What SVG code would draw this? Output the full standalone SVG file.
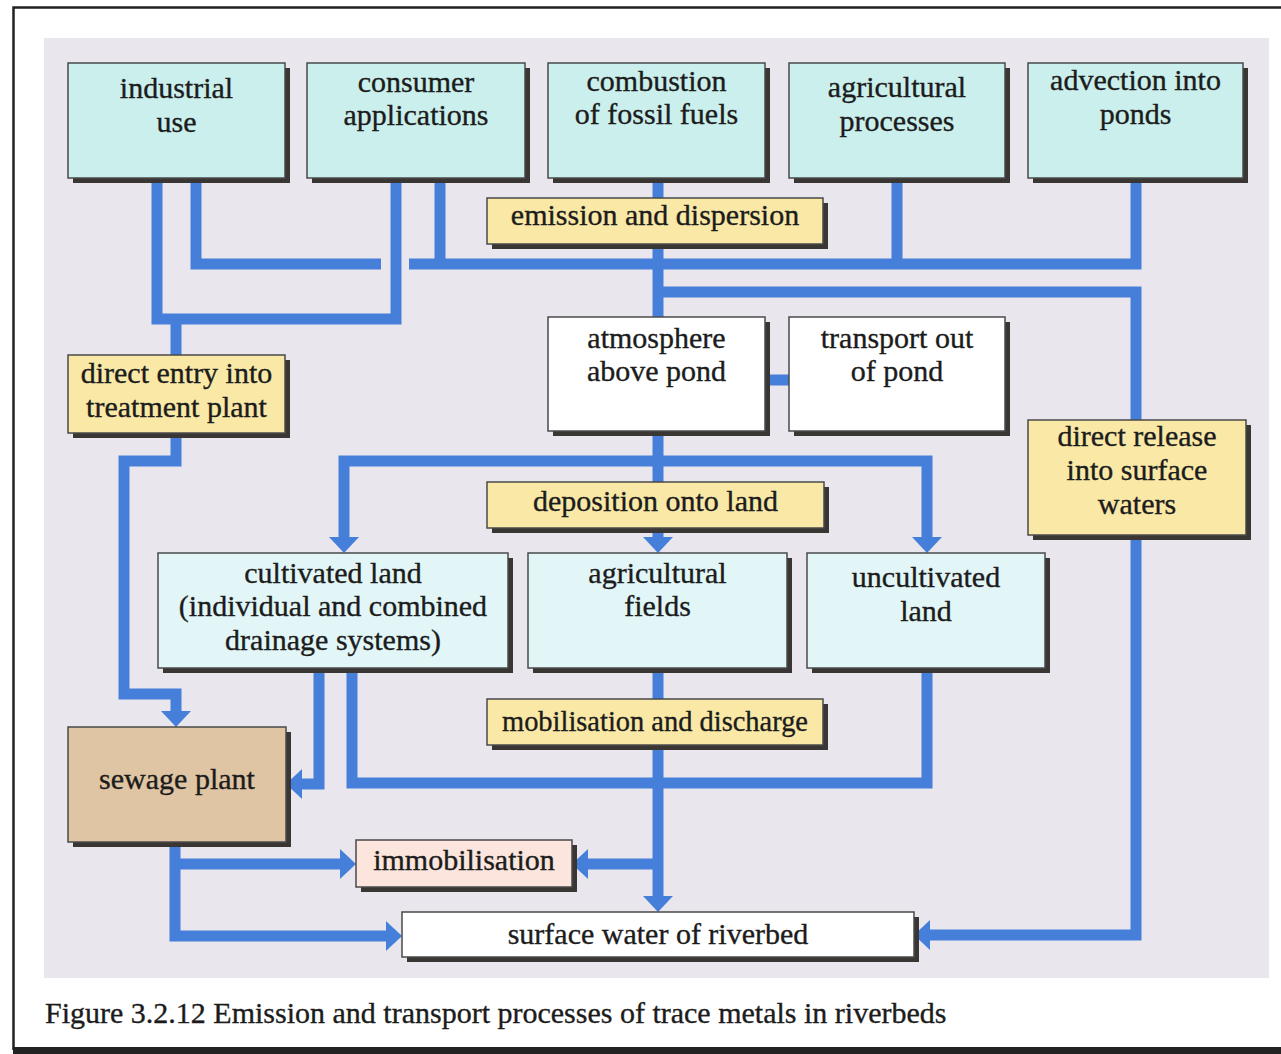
<svg xmlns="http://www.w3.org/2000/svg" width="1281" height="1054" viewBox="0 0 1281 1054">
<defs>
<style>
.frame{fill:none;stroke:#222;stroke-width:2.5}
.panel{fill:#e9e7ed}
.shadow{fill:#3a3634}
.bx{stroke:#4a4a4a;stroke-width:1.5}
.src{fill:#caefec}
.land{fill:#e2f6f8}
.lbl{fill:#f9e8a6}
.wht{fill:#ffffff}
.sew{fill:#dfc5a3}
.imm{fill:#fbe5dd}
text{font-family:"Liberation Serif","Times New Roman",serif;font-size:30px;fill:#1c1c1c;stroke:#1c1c1c;stroke-width:0.35;text-anchor:middle}
.cap{text-anchor:start}
.conn{fill:none;stroke:#467fd9;stroke-width:11;stroke-linejoin:miter;stroke-linecap:butt}
</style>
<marker id="arr" markerUnits="userSpaceOnUse" viewBox="0 0 16 30" markerWidth="16" markerHeight="30" refX="0" refY="15" orient="auto">
<path d="M0,0 L16,15 L0,30 z" fill="#467fd9"/>
</marker>
</defs>
<rect x="0" y="0" width="1281" height="1054" fill="#ffffff"/>
<path class="frame" d="M13.5,1050 V7.5 H1281"/>
<rect x="13" y="1047" width="1268" height="7" fill="#222"/>
<rect class="panel" x="44" y="38" width="1225" height="940"/>

<g id="connectors">
<path class="conn" d="M157,175 V319 H396 V175"/>
<path class="conn" d="M176,319 V358"/>
<path class="conn" d="M196,175 V264 H381"/>
<path class="conn" d="M409,264 H1136 V175"/>
<path class="conn" d="M440,175 V264"/>
<path class="conn" d="M897,175 V264"/>
<path class="conn" d="M658,175 V320"/>
<path class="conn" d="M658,292 H1136 V424"/>
<path class="conn" d="M760,380 H795"/>
<path class="conn" d="M658,428 V537" marker-end="url(#arr)"/>
<path class="conn" d="M658,461 H344 V537" marker-end="url(#arr)"/>
<path class="conn" d="M658,461 H927 V537" marker-end="url(#arr)"/>
<path class="conn" d="M176,430 V461 H124 V694 H176 V711" marker-end="url(#arr)"/>
<path class="conn" d="M319,665 V784 H302" marker-end="url(#arr)"/>
<path class="conn" d="M352,665 V783 H927 V665"/>
<path class="conn" d="M658,665 V896" marker-end="url(#arr)"/>
<path class="conn" d="M658,864 H588" marker-end="url(#arr)"/>
<path class="conn" d="M175,838 V936 H386" marker-end="url(#arr)"/>
<path class="conn" d="M175,864 H340" marker-end="url(#arr)"/>
<path class="conn" d="M1136,530 V935 H930" marker-end="url(#arr)"/>
</g>

<g id="industrial-use">
<rect class="shadow" x="73" y="68" width="217" height="115"/>
<rect class="bx src" x="68" y="63" width="217" height="115"/>
<text x="176.5" y="98">industrial</text>
<text x="176.5" y="132">use</text>
</g>
<g id="consumer-applications">
<rect class="shadow" x="312" y="68" width="218" height="115"/>
<rect class="bx src" x="307" y="63" width="218" height="115"/>
<text x="416" y="92">consumer</text>
<text x="416" y="125">applications</text>
</g>
<g id="combustion">
<rect class="shadow" x="553" y="68" width="217" height="115"/>
<rect class="bx src" x="548" y="63" width="217" height="115"/>
<text x="656.5" y="91">combustion</text>
<text x="656.5" y="124">of fossil fuels</text>
</g>
<g id="agricultural-processes">
<rect class="shadow" x="794" y="68" width="216" height="115"/>
<rect class="bx src" x="789" y="63" width="216" height="115"/>
<text x="897" y="97">agricultural</text>
<text x="897" y="131">processes</text>
</g>
<g id="advection">
<rect class="shadow" x="1033" y="68" width="215" height="115"/>
<rect class="bx src" x="1028" y="63" width="215" height="115"/>
<text x="1135.5" y="90">advection into</text>
<text x="1135.5" y="124">ponds</text>
</g>

<g id="emission-dispersion">
<rect class="shadow" x="492" y="203" width="336" height="46"/>
<rect class="bx lbl" x="487" y="198" width="336" height="46"/>
<text x="655" y="225">emission and dispersion</text>
</g>
<g id="direct-entry">
<rect class="shadow" x="73" y="360" width="217" height="78"/>
<rect class="bx lbl" x="68" y="355" width="217" height="78"/>
<text x="176.5" y="383">direct entry into</text>
<text x="176.5" y="417">treatment plant</text>
</g>
<g id="atmosphere">
<rect class="shadow" x="553" y="322" width="217" height="114"/>
<rect class="bx wht" x="548" y="317" width="217" height="114"/>
<text x="656.5" y="348">atmosphere</text>
<text x="656.5" y="381">above pond</text>
</g>
<g id="transport-out">
<rect class="shadow" x="794" y="322" width="216" height="114"/>
<rect class="bx wht" x="789" y="317" width="216" height="114"/>
<text x="897" y="348">transport out</text>
<text x="897" y="381">of pond</text>
</g>
<g id="direct-release">
<rect class="shadow" x="1033" y="425" width="218" height="115"/>
<rect class="bx lbl" x="1028" y="420" width="218" height="115"/>
<text x="1137" y="446">direct release</text>
<text x="1137" y="480">into surface</text>
<text x="1137" y="514">waters</text>
</g>
<g id="deposition">
<rect class="shadow" x="492" y="487" width="337" height="46"/>
<rect class="bx lbl" x="487" y="482" width="337" height="46"/>
<text x="655.5" y="511">deposition onto land</text>
</g>
<g id="cultivated-land">
<rect class="shadow" x="163" y="558" width="350" height="115"/>
<rect class="bx land" x="158" y="553" width="350" height="115"/>
<text x="333" y="583">cultivated land</text>
<text x="333" y="616">(individual and combined</text>
<text x="333" y="650">drainage systems)</text>
</g>
<g id="agricultural-fields">
<rect class="shadow" x="533" y="558" width="259" height="115"/>
<rect class="bx land" x="528" y="553" width="259" height="115"/>
<text x="657.5" y="583">agricultural</text>
<text x="657.5" y="616">fields</text>
</g>
<g id="uncultivated-land">
<rect class="shadow" x="812" y="558" width="238" height="115"/>
<rect class="bx land" x="807" y="553" width="238" height="115"/>
<text x="926" y="587">uncultivated</text>
<text x="926" y="621">land</text>
</g>
<g id="mobilisation">
<rect class="shadow" x="492" y="704" width="336" height="46"/>
<rect class="bx lbl" x="487" y="699" width="336" height="46"/>
<text x="655" y="731" textLength="306" lengthAdjust="spacingAndGlyphs">mobilisation and discharge</text>
</g>
<g id="sewage-plant">
<rect class="shadow" x="73" y="732" width="218" height="115"/>
<rect class="bx sew" x="68" y="727" width="218" height="115"/>
<text x="177" y="789">sewage plant</text>
</g>
<g id="immobilisation">
<rect class="shadow" x="361" y="845" width="216" height="47"/>
<rect class="bx imm" x="356" y="840" width="216" height="47"/>
<text x="464" y="870">immobilisation</text>
</g>
<g id="surface-water">
<rect class="shadow" x="407" y="917" width="512" height="45"/>
<rect class="bx wht" x="402" y="912" width="512" height="45"/>
<text x="658" y="944">surface water of riverbed</text>
</g>

<text class="cap" x="45" y="1023" font-size="29.5">Figure 3.2.12 Emission and transport processes of trace metals in riverbeds</text>
</svg>
